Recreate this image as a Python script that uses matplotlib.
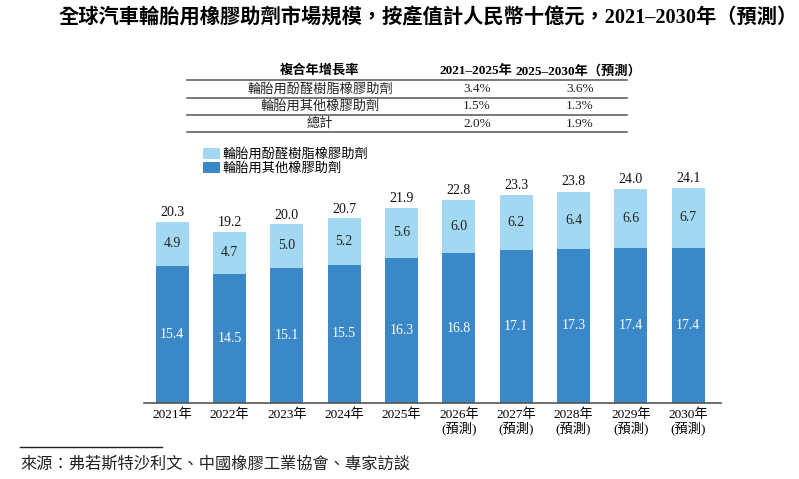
"""Global tyre rubber additive market size, 2021-2030 (forecast), stacked bars."""

import matplotlib
matplotlib.use("Agg")
import matplotlib.pyplot as plt
from matplotlib.lines import Line2D
import numpy as np

plt.rcParams["font.family"] = ["Liberation Serif", "Noto Sans CJK TC", "DejaVu Sans"]

W, H = 799, 479

years = ["2021年", "2022年", "2023年", "2024年", "2025年",
         "2026年\n(預測)", "2027年\n(預測)", "2028年\n(預測)", "2029年\n(預測)", "2030年\n(預測)"]
other = [15.4, 14.5, 15.1, 15.5, 16.3, 16.8, 17.1, 17.3, 17.4, 17.4]
phenolic = [4.9, 4.7, 5.0, 5.2, 5.6, 6.0, 6.2, 6.4, 6.6, 6.7]
totals = [20.3, 19.2, 20.0, 20.7, 21.9, 22.8, 23.3, 23.8, 24.0, 24.1]

cagr_rows = ["輪胎用酚醛樹脂橡膠助劑", "輪胎用其他橡膠助劑", "總計"]
cagr_2125 = ["3.4%", "1.5%", "2.0%"]
cagr_2530 = ["3.6%", "1.3%", "1.9%"]

light = "#a3d8f2"
dark = "#3a88c8"


def fx(x):
    return x / W


def fy(y):
    return 1 - y / H


fig = plt.figure(figsize=(W / 100, H / 100), dpi=100)
ax = fig.add_axes([fx(144), fy(403), fx(721) - fx(144), (403 - 171) / H])

x = np.arange(len(years))
ax.bar(x, other, width=0.575, color=dark, label="輪胎用其他橡膠助劑")
ax.bar(x, phenolic, width=0.575, bottom=other, color=light, label="輪胎用酚醛樹脂橡膠助劑")
for i in range(len(x)):
    ax.text(x[i], other[i] / 2, f"{other[i]:.1f}", ha="center", va="center",
            color="white", fontsize=10)
    ax.text(x[i], other[i] + phenolic[i] / 2, f"{phenolic[i]:.1f}", ha="center",
            va="center", color="#222222", fontsize=10)
    ax.text(x[i], totals[i] + 0.3, f"{totals[i]:.1f}", ha="center", va="bottom",
            color="#111111", fontsize=10)

ax.set_xlim(-0.49, 9.57)
ax.set_ylim(0, 26)
ax.set_xticks(x)
ax.set_xticklabels(years, fontsize=9.5, va="top", linespacing=1.05)
ax.tick_params(axis="x", length=0, pad=4)
ax.set_yticks([])
for side in ("top", "right", "left"):
    ax.spines[side].set_visible(False)
ax.spines["bottom"].set_color("#555555")
ax.spines["bottom"].set_linewidth(1.2)

handles, labels = ax.get_legend_handles_labels()
fig.legend(handles[::-1], labels[::-1], loc="upper left",
           bbox_to_anchor=(fx(203), fy(148)), frameon=False, fontsize=9.5,
           handlelength=1.3, handleheight=0.9, handletextpad=0.15,
           labelspacing=0.05, borderaxespad=0, borderpad=0)

# title
fig.text(fx(428), fy(18), "全球汽車輪胎用橡膠助劑市場規模，按產值計人民幣十億元，2021–2030年（預測）",
         ha="center", va="center", fontsize=14.6, fontweight="bold")

# CAGR table
for yy in (80, 97.5, 115, 132):
    fig.add_artist(Line2D([fx(187), fx(627)], [fy(yy), fy(yy)],
                          transform=fig.transFigure, color="#555555", linewidth=1.1))
fig.text(fx(320), fy(71), "複合年增長率", ha="center", va="center", fontsize=9.5, fontweight="bold")
fig.text(fx(476), fy(71), "2021–2025年", ha="center", va="center", fontsize=9.5, fontweight="bold")
fig.text(fx(578), fy(71), "2025–2030年（預測）", ha="center", va="center", fontsize=9.5, fontweight="bold")
for r, (name, a, b) in enumerate(zip(cagr_rows, cagr_2125, cagr_2530)):
    yy = 89 + r * 17.3
    fig.text(fx(320), fy(yy), name, ha="center", va="center", fontsize=9.5, color="#222222")
    fig.text(fx(477), fy(yy), a, ha="center", va="center", fontsize=9.5, color="#222222")
    fig.text(fx(580), fy(yy), b, ha="center", va="center", fontsize=9.5, color="#222222")

# source
fig.add_artist(Line2D([fx(20), fx(162)], [fy(447), fy(447)],
                      transform=fig.transFigure, color="#222222", linewidth=1))
fig.text(fx(20), fy(465), "來源：弗若斯特沙利文、中國橡膠工業協會、專家訪談",
         ha="left", va="center", fontsize=11.7, style="italic", color="#222222")

fig.savefig("out.png", dpi=100)
